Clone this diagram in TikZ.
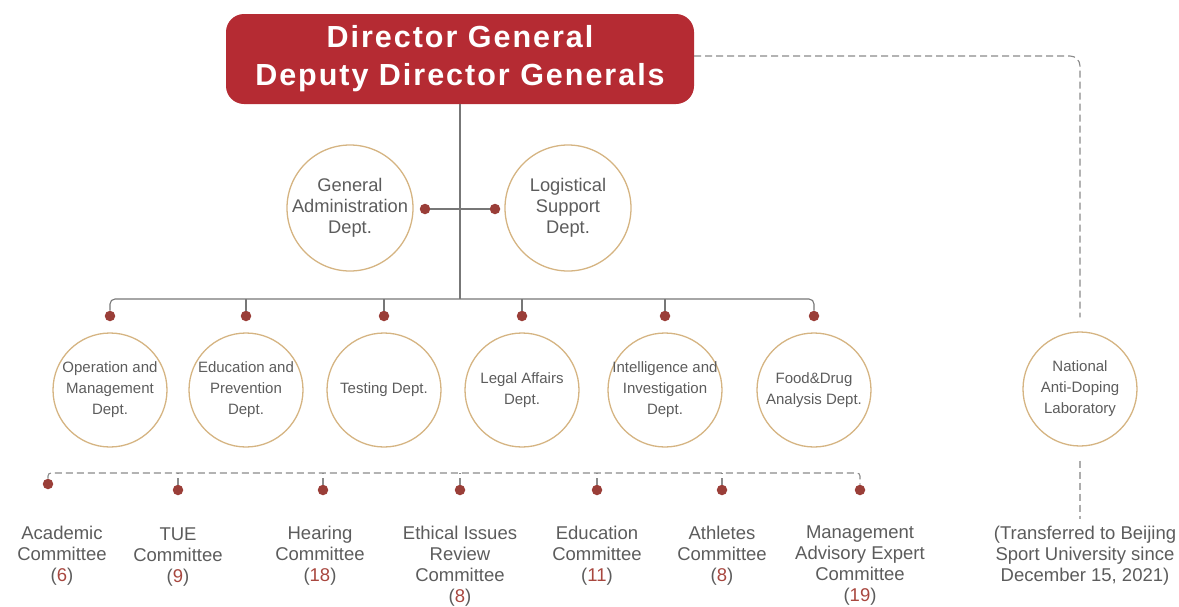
\documentclass[tikz,border=0pt]{standalone}
\usepackage{fontspec}
\setmainfont{Liberation Sans}
\usetikzlibrary{positioning}

\definecolor{boxred}{HTML}{B52B33}
\definecolor{dotred}{HTML}{9A3E38}
\definecolor{ringtan}{HTML}{D5B482}
\definecolor{linegray}{HTML}{777777}
\definecolor{textgray}{HTML}{5C5C5C}
\definecolor{numred}{HTML}{A8473F}

\tikzset{
    ring/.style={circle, draw=ringtan, line width=1.3pt, minimum size=126pt, inner sep=-6pt,
        align=center, text=textgray, font=\fontsize{18.3}{21}\selectfont},
    smallring/.style={ring, minimum size=114pt, font=\fontsize{15}{21}\selectfont},
    dot/.style={circle, fill=dotred, minimum size=10.5pt, inner sep=0pt},
    link/.style={draw=linegray, line width=1.1pt},
    dlink/.style={draw=linegray!85, line width=1.1pt, dash pattern=on 7pt off 4pt},
    cmt/.style={align=center, text=textgray, font=\fontsize{18.5}{21}\selectfont,
        anchor=north, inner sep=0pt}
}
\newcommand{\cnum}[1]{(\textcolor{numred}{#1})}

\begin{document}
\begin{tikzpicture}[x=1pt, y=-1pt]
    \useasboundingbox (0,0) rectangle (1179,606);

    % head
    \node[fill=boxred, rounded corners=18pt, minimum width=468pt, minimum height=90pt,
        text=white, align=center,
        font=\bfseries\fontsize{30.5}{38}\selectfont\addfontfeatures{LetterSpace=6.5}] (dg) at (460,59)
        {Director General\\Deputy Director Generals};

    % offices beside the line
    \node[ring] (ga) at (350,208) {General\\Administration\\Dept.};
    \node[ring] (ls) at (568,208) {Logistical\\Support\\Dept.};
    \node[dot] (gad) at (425,209) {};
    \node[dot] (lsd) at (495,209) {};
    \draw[link] (gad) -- (lsd);

    % departments
    \coordinate (bar) at (460,299);
    \draw[link] (dg.south) -- (bar);
    \foreach \x/\nm/\txt in {110/op/{Operation and\\Management\\Dept.},
                             246/ep/{Education and\\Prevention\\Dept.},
                             384/te/{Testing Dept.},
                             522/la/{Legal Affairs\\Dept.},
                             665/ii/{Intelligence and\\Investigation\\Dept.},
                             814/fd/{Food\&Drug\\Analysis Dept.}} {
        \node[dot] (\nm d) at (\x,316) {};
        \node[smallring] (\nm) at (\x,390) {\txt};
    }
    \draw[link, rounded corners=5pt] (opd) |- (bar) -| (fdd);
    \foreach \nm in {ep, te, la, ii} {
        \draw[link] (\nm d) -- (\nm d |- bar);
    }

    % committees
    \coordinate (cbar) at (460,473);
    \node[dot] (acd) at (48,484) {};
    \foreach \x/\nm in {178/tu, 323/he, 460/et, 597/ed, 722/at, 860/mg} {
        \node[dot] (\nm d) at (\x,490) {};
    }
    \draw[dlink, rounded corners=3pt] (acd) |- (cbar) -| (mgd);
    \foreach \nm in {tu, he, et, ed, at} {
        \draw[dlink] (\nm d) -- (\nm d |- cbar);
    }
    \node[cmt] (ac) at (62,526) {Academic\\Committee\\\cnum{6}};
    \node[cmt] (tu) at (178,527.5) {TUE\\Committee\\\cnum{9}};
    \node[cmt] (he) at (320,526) {Hearing\\Committee\\\cnum{18}};
    \node[cmt] (et) at (460,526) {Ethical Issues\\Review\\Committee\\\cnum{8}};
    \node[cmt] (ed) at (597,526) {Education\\Committee\\\cnum{11}};
    \node[cmt] (at) at (722,526) {Athletes\\Committee\\\cnum{8}};
    \node[cmt] (mg) at (860,526) {Management\\Advisory Expert\\Committee\\\cnum{19}};

    % laboratory
    \node[smallring] (lab) at (1080,389) {National\\Anti-Doping\\Laboratory};
    \node[cmt] (note) at (1085,526) {(Transferred to Beijing\\Sport University since\\December 15, 2021)};
    \draw[dlink, rounded corners=10pt, shorten >=14pt] ([yshift=3pt]dg.east) -| (lab.north);
    \draw[dlink, draw=linegray!60, shorten <=14pt, shorten >=7pt] (lab.south) -- (lab.south |- note.north);
\end{tikzpicture}
\end{document}
